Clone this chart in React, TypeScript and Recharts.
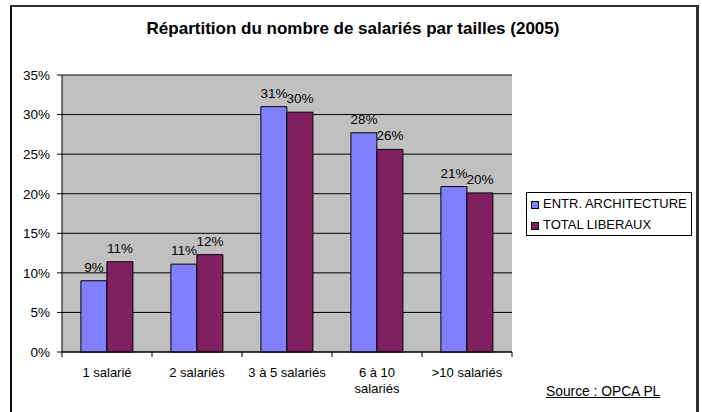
import React from "react";
import {
  BarChart,
  Bar,
  XAxis,
  YAxis,
  CartesianGrid,
  LabelList,
} from "recharts";

const categories = [
  "1 salarié",
  "2 salariés",
  "3 à 5 salariés",
  "6 à 10 salariés",
  ">10 salariés",
];
const architecture = [9.0, 11.1, 31.0, 27.7, 20.9];
const liberaux = [11.4, 12.3, 30.3, 25.6, 20.1];
const yTicks = [0, 5, 10, 15, 20, 25, 30, 35];

const SERIES = [
  { key: "archi", name: "ENTR. ARCHITECTURE", color: "#8080FF" },
  { key: "lib", name: "TOTAL LIBERAUX", color: "#802060" },
];

const data = categories.map((c, i) => ({
  cat: c,
  archi: architecture[i],
  lib: liberaux[i],
}));

const FONT = "'Liberation Sans', Arial, sans-serif";

// tick of the category axis: label + excel-like marks between categories
const XTick = (props: any) => {
  const { x, y, payload, index, width, visibleTicksCount } = props;
  const band = width && visibleTicksCount ? width / visibleTicksCount : 90;
  const axisY = y - 8;
  const txt: string = String(payload.value);
  let lines = [txt];
  if (txt.length > 14) {
    const cut = txt.lastIndexOf(" ");
    lines = [txt.slice(0, cut), txt.slice(cut + 1)];
  }
  return (
    <g>
      <line x1={x - band / 2} y1={axisY} x2={x - band / 2} y2={axisY + 5} stroke="#000" />
      {index === visibleTicksCount - 1 && (
        <line x1={x + band / 2} y1={axisY} x2={x + band / 2} y2={axisY + 5} stroke="#000" />
      )}
      <text
        x={x}
        y={axisY + 25}
        textAnchor="middle"
        fontSize={13}
        fontFamily={FONT}
        fill="#000"
      >
        {lines.map((l, i) => (
          <tspan key={i} x={x} dy={i === 0 ? 0 : 16}>
            {l}
          </tspan>
        ))}
      </text>
    </g>
  );
};

const LegendBox = () => (
  <div
    style={{
      position: "absolute",
      left: 526,
      top: 192,
      border: "1px solid #000",
      background: "#fff",
      width: 164,
      height: 42,
      fontFamily: FONT,
      fontSize: 13,
      color: "#000",
    }}
  >
    {SERIES.map((s) => (
      <div
        key={s.key}
        style={{ display: "flex", alignItems: "center", height: 21, paddingLeft: 4 }}
      >
        <span
          style={{
            display: "inline-block",
            width: 6,
            height: 6,
            border: "1px solid #000",
            background: s.color,
            marginRight: 4,
            marginTop: 3,
          }}
        />
        <span>{s.name}</span>
      </div>
    ))}
  </div>
);

export default function App() {
  return (
    <div
      style={{
        position: "absolute",
        left: 0,
        top: 0,
        width: 702,
        height: 412,
        background: "#fff",
        overflow: "hidden",
        fontFamily: FONT,
      }}
    >
      <div
        style={{
          position: "absolute",
          left: 10,
          top: 5,
          width: 684,
          height: 430,
          borderLeft: "2px solid #111",
          borderTop: "2px solid #333",
          borderRight: "3px solid #333",
        }}
      />
      <div
        style={{
          position: "absolute",
          left: 0,
          top: 19,
          width: 706,
          textAlign: "center",
          fontWeight: "bold",
          fontSize: 17,
        }}
      >
        Répartition du nombre de salariés par tailles (2005)
      </div>
      <div
        style={{
          position: "absolute",
          left: 546,
          top: 384,
          fontSize: 13.8,
          textDecoration: "underline",
        }}
      >
        Source : OPCA PL
      </div>
      <div style={{ position: "absolute", left: 0, top: 0 }}>
        <BarChart
          width={702}
          height={412}
          data={data}
          margin={{ top: 75, right: 190, bottom: 20, left: 12 }}
          barCategoryGap="21%"
          barGap={0}
        >
          <CartesianGrid
            vertical={false}
            stroke="#000"
            fill="#C0C0C0"
            fillOpacity={1}
          />
          <XAxis
            dataKey="cat"
            height={40}
            axisLine={{ stroke: "#000" }}
            tickLine={false}
            interval={0}
            tick={<XTick />}
          />
          <YAxis
            width={50}
            domain={[0, 35]}
            ticks={yTicks}
            tickFormatter={(v: number) => `${v}%`}
            axisLine={{ stroke: "#000" }}
            tickLine={{ stroke: "#000" }}
            tickSize={5}
            tickMargin={7}
            tick={{ fontSize: 13.5, fontFamily: FONT, fill: "#000" }}
          />
          {SERIES.map((s) => (
            <Bar
              key={s.key}
              dataKey={s.key}
              name={s.name}
              fill={s.color}
              stroke="#000"
              strokeWidth={1}
              isAnimationActive={false}
            >
              <LabelList
                dataKey={s.key}
                position="top"
                offset={9}
                formatter={(v: any) => `${Math.round(Number(v))}%`}
                style={{ fontSize: 13.5, fontFamily: FONT, fill: "#000" }}
              />
            </Bar>
          ))}
        </BarChart>
      </div>
      <LegendBox />
    </div>
  );
}
